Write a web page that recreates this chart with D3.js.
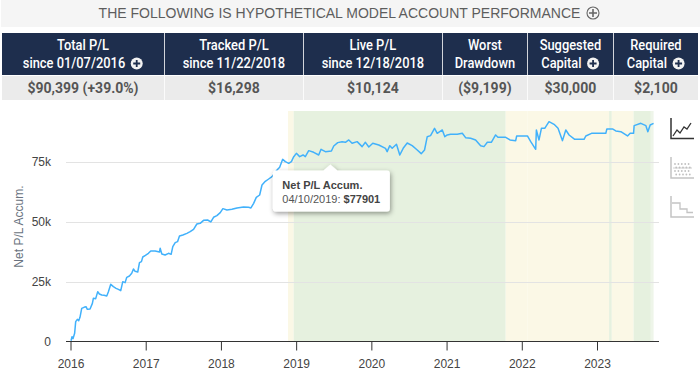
<!DOCTYPE html>
<html><head><meta charset="utf-8">
<script src="https://cdn.jsdelivr.net/npm/d3@7"></script>
<style>
html,body{margin:0;padding:0;background:#fff;width:700px;height:380px;overflow:hidden}
svg{position:absolute;left:0;top:0}
</style></head><body>
<svg id="c" width="700" height="380"></svg>
<script>
const pageTitle = "THE FOLLOWING IS HYPOTHETICAL MODEL ACCOUNT PERFORMANCE";
const headersTop = ["Total P/L","Tracked P/L","Live P/L","Worst","Suggested","Required"];
const headersBottom = ["since 01/07/2016","since 11/22/2018","since 12/18/2018","Drawdown","Capital","Capital"];
const headerHasIcon = [true,false,false,false,true,true];
const statValues = ["$90,399 (+39.0%)","$16,298","$10,124","($9,199)","$30,000","$2,100"];
const yTicks = [0,25000,50000,75000];
const xTicks = [2016,2017,2018,2019,2020,2021,2022,2023];
const yTitle = "Net P/L Accum.";
const tipTitle = "Net P/L Accum.";
const tipDate = "04/10/2019: ";
const tipValue = "$77901";
const tipAnchor = [2019.455, 77901];

const years = [2016.007,2016.02,2016.033,2016.055,2016.069,2016.091,2016.109,2016.126,2016.149,2016.18,2016.206,2016.224,2016.26,2016.291,2016.304,2016.335,2016.362,2016.384,2016.415,2016.446,2016.482,2016.504,2016.535,2016.57,2016.606,2016.637,2016.668,2016.695,2016.726,2016.748,2016.783,2016.814,2016.837,2016.859,2016.894,2016.917,2016.943,2016.961,2016.996,
2017.036,2017.067,2017.125,2017.183,2017.192,2017.214,2017.258,2017.303,2017.338,2017.36,2017.392,2017.423,2017.449,2017.494,2017.547,2017.591,2017.636,2017.68,2017.724,2017.769,2017.822,2017.866,2017.902,2017.946,2017.991,
2018.026,2018.08,2018.146,2018.213,2018.301,2018.368,2018.399,2018.435,2018.47,2018.515,2018.546,2018.59,2018.635,2018.679,2018.746,2018.781,2018.821,2018.857,2018.901,2018.937,2018.968,2019.003,
2019.047,2019.092,2019.122,2019.167,2019.233,2019.3,2019.331,2019.389,2019.469,2019.5,2019.553,2019.611,2019.655,2019.7,2019.744,2019.811,2019.877,2019.921,2019.966,
2020.019,2020.099,2020.188,2020.21,2020.245,2020.277,2020.334,2020.378,2020.423,2020.477,2020.543,2020.61,2020.663,2020.707,2020.743,2020.787,2020.84,2020.876,2020.943,2020.977,
2021.009,2021.053,2021.142,2021.209,2021.253,2021.32,2021.386,2021.453,2021.497,2021.542,2021.595,2021.652,2021.683,2021.786,2021.843,2021.919,2021.932,
2022.075,2022.119,2022.185,2022.194,2022.229,2022.261,2022.305,2022.362,2022.429,2022.482,2022.541,2022.585,2022.629,2022.704,2022.828,2022.851,2022.927,
2023.117,2023.131,2023.206,2023.25,2023.317,2023.406,2023.441,2023.486,2023.494,2023.583,2023.65,2023.676,2023.707,2023.752];
const netPL = [300,2014,1180,3400,8260,9240,8680,10070,13820,14240,14520,13400,13540,15900,17990,17850,20770,19790,19380,19240,18960,20770,23820,22850,22160,21740,21180,24930,24520,26740,27290,28400,30210,29240,28960,32850,33270,35210,35900,
36740,37710,37710,37290,38820,36460,36040,36740,36320,39520,41180,41600,43960,44380,45070,45770,46740,48960,49240,50490,50630,49810,51760,52450,53700,
55350,54810,55100,55630,56050,55910,55630,57570,60070,61040,65210,66740,67710,68680,71460,72570,75900,74930,74240,74930,77010,78400,
77020,77720,77020,79520,78830,77720,80080,79100,79380,81470,82860,83270,82990,83970,82580,83270,81190,82990,81050,
82580,81880,80490,79100,81600,80490,82160,77720,80490,82720,81600,79800,78270,79800,85350,85770,88830,86740,88130,85350,
86050,86330,86330,86740,84940,84660,83970,81600,81190,82990,82990,86050,85080,85080,83970,83690,85630,
85630,83270,80080,88130,83970,88830,88830,91600,90490,88830,83690,88130,86050,84240,84240,85630,86740,
86740,88550,88550,87720,87440,85630,86740,86740,89940,90910,89940,87440,90210,90910];

const bandStart = [2018.892,2018.967,2021.786,2022.078,2023.161,2023.197,2023.486,2023.716];
const bandEnd   = [2018.967,2021.786,2022.078,2023.161,2023.197,2023.486,2023.716,2023.752];
const bandKind  = ["y","g","y","y","g","y","g","l"];
const bandFill  = {y:"#fbf8e6",g:"#e6f1df",l:"#eef5e9"};

const svg = d3.select("#c");
const FONT = "'Liberation Sans',Arial,sans-serif";
const x = d3.scaleLinear().domain([2016,2023]).range([70.5,597]);
const y = d3.scaleLinear().domain([0,75000]).range([341.5,161.5]);

function plusIcon(g,cx,cy){
  g.append("circle").attr("cx",cx).attr("cy",cy).attr("r",6).attr("fill","#f2f2f2");
  g.append("path").attr("d",`M${cx-3.5} ${cy}H${cx+3.5}M${cx} ${cy-3.5}V${cy+3.5}`).attr("stroke","#1e2e4d").attr("stroke-width",1.8);
}

// title band
svg.append("rect").attr("x",1).attr("y",0).attr("width",699).attr("height",27).attr("fill","#f5f5f5");
svg.append("text").attr("x",339.5).attr("y",18).attr("text-anchor","middle")
  .attr("font-family",FONT).attr("font-size",14).attr("fill","#5d5d5d").text(pageTitle);
svg.append("circle").attr("cx",593).attr("cy",13).attr("r",6).attr("fill","none").attr("stroke","#666").attr("stroke-width",1.1);
svg.append("path").attr("d","M589 13H597M593 9V17").attr("stroke","#666").attr("stroke-width",1.6);

// table
const colEdges = [2,164,303,442,527,613,698];
const hScale = 0.92;
const hdr = svg.append("g");
headersTop.forEach((t,i)=>{
  const l = colEdges[i]+(i?0.8:0), r = colEdges[i+1], cx=(l+r)/2;
  hdr.append("rect").attr("x",l).attr("y",33).attr("width",r-l).attr("height",42).attr("fill","#1e2e4d");
  hdr.append("rect").attr("x",l).attr("y",76).attr("width",r-l).attr("height",24).attr("fill","#ebebeb");
  const ic = headerHasIcon[i] ? 9 : 0;
  hdr.append("text").attr("transform",`translate(${cx},50) scale(${hScale},1)`).attr("text-anchor","middle")
    .attr("font-family","Roboto,sans-serif").attr("font-size",14).attr("font-weight",500)
    .attr("fill","#fff").text(t);
  const b = hdr.append("text").attr("transform",`translate(${cx-ic},68) scale(${hScale},1)`).attr("text-anchor","middle")
    .attr("font-family","Roboto,sans-serif").attr("font-size",14).attr("font-weight",500)
    .attr("fill","#fff").text(headersBottom[i]);
  if(ic){ plusIcon(hdr,cx-ic+b.node().getComputedTextLength()*hScale/2+11.5,63.5); }
  hdr.append("text").attr("x",cx).attr("y",93).attr("text-anchor","middle")
    .attr("font-family","Roboto,sans-serif").attr("font-size",14).attr("font-weight",700)
    .attr("fill","#555").text(statValues[i]);
});

// bands
svg.append("g").selectAll("rect").data(bandStart).join("rect")
  .attr("x",d=>x(d)).attr("y",111)
  .attr("width",(d,i)=>x(bandEnd[i])-x(d)).attr("height",230)
  .attr("fill",(d,i)=>bandFill[bandKind[i]]);

// grid
svg.append("g").selectAll("line").data(yTicks.slice(1)).join("line")
  .attr("x1",66).attr("x2",659).attr("y1",d=>Math.round(y(d))+.5).attr("y2",d=>Math.round(y(d))+.5)
  .attr("stroke","#e3e3e3").attr("stroke-width",1);

// line
const line = d3.line().x((d,i)=>x(years[i])).y(d=>y(d));
svg.append("path").datum(netPL).attr("d",line).attr("fill","none")
  .attr("stroke","#41b1fb").attr("stroke-width",1.5).attr("stroke-linejoin","round");

// axes
const xAxis = svg.append("g").attr("transform","translate(0,341.5)")
  .call(d3.axisBottom(x).tickValues(xTicks).tickFormat(d3.format("d")).tickSize(9).tickPadding(9));
xAxis.select(".domain").attr("d","M66 0H659").attr("stroke","#333");
xAxis.selectAll(".tick line").attr("stroke","#333");
xAxis.selectAll("text").attr("font-family",FONT).attr("font-size",12).attr("fill","#444");

const yAxis = svg.append("g").attr("transform","translate(55,0)")
  .call(d3.axisLeft(y).tickValues(yTicks).tickFormat(d=>d?d/1000+"k":"0").tickSize(0).tickPadding(4));
yAxis.select(".domain").remove();
yAxis.selectAll("text").attr("font-family",FONT).attr("font-size",12).attr("fill","#444");

svg.append("text").attr("transform","translate(23,226.5) rotate(-90)").attr("text-anchor","middle")
  .attr("font-family",FONT).attr("font-size",12).attr("fill","#6a7380").text(yTitle);

// tooltip
const defs = svg.append("defs");
const f = defs.append("filter").attr("id","sh").attr("x","-20%").attr("y","-30%").attr("width","140%").attr("height","170%");
f.append("feDropShadow").attr("dx",1).attr("dy",2).attr("stdDeviation",2.5).attr("flood-color","#000").attr("flood-opacity",.4);
const ax = x(tipAnchor[0]), ay = y(tipAnchor[1])+10;
const tip = svg.append("g").attr("font-family",FONT);
tip.append("path").attr("filter","url(#sh)").attr("fill","#fff")
  .attr("d",`M${ax-54.5} ${ay+6}H${ax-7}L${ax} ${ay}L${ax+7} ${ay+6}H${ax+56.5}a3 3 0 0 1 3 3V${ay+44}a3 3 0 0 1 -3 3H${ax-54.5}a3 3 0 0 1 -3 -3V${ay+9}a3 3 0 0 1 3 -3Z`);
tip.append("text").attr("x",ax-48).attr("y",ay+24).attr("font-size",11).attr("font-weight",700).attr("fill","#444").text(tipTitle);
const t2 = tip.append("text").attr("x",ax-48).attr("y",ay+38).attr("font-size",11).attr("fill","#555");
t2.append("tspan").text(tipDate);
t2.append("tspan").attr("font-weight",700).attr("fill","#444").text(tipValue);

// right-hand view icons
const ic = svg.append("g").attr("fill","none");
ic.append("path").attr("d","M671 118V138.5H694").attr("stroke","#333").attr("stroke-width",1.5);
ic.append("path").attr("d","M673 136L677 130L680 133L684 127L687 129L691 123").attr("stroke","#333").attr("stroke-width",1.3);
ic.append("path").attr("d","M671 157V178H694").attr("stroke","#c4c4c4").attr("stroke-width",1.5);
ic.append("path").attr("d","M673 168H692").attr("stroke","#cfcfcf").attr("stroke-width",1);
d3.range(5).forEach(i=>d3.range(4).forEach(j=>{
  ic.append("circle").attr("cx",675+i*3.4+(j%2)*1.2).attr("cy",164+j*3.5).attr("r",.9).attr("fill","#c0c0c0");
}));
ic.append("path").attr("d","M671 196V217H694").attr("stroke","#c4c4c4").attr("stroke-width",1.5);
ic.append("path").attr("d","M672 203H680V209H687V212.5H693").attr("stroke","#c4c4c4").attr("stroke-width",1.3);
</script>
</body></html>
